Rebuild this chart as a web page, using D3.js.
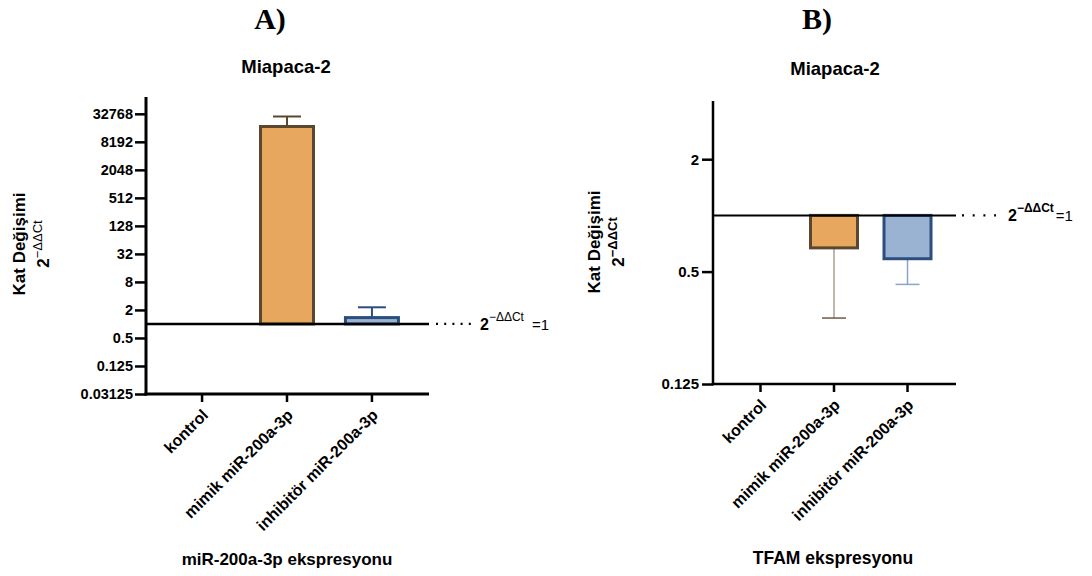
<!DOCTYPE html>
<html>
<head>
<meta charset="utf-8">
<script src="https://cdn.jsdelivr.net/npm/d3@7"></script>
<style>
body { margin: 0; background: #fff; }
svg { display: block; }
text { font-family: "Liberation Sans", Arial, sans-serif; }
</style>
</head>
<body>
<svg id="chart" width="1092" height="576"></svg>
<script>
// ---- data ----
const categories = ["kontrol", "mimik miR-200a-3p", "inhibitör miR-200a-3p"];
const meansA = [1, 17500, 1.37];
const errTopA = [1, 28700, 2.28];
const ticksA = [0.03125, 0.125, 0.5, 2, 8, 32, 128, 512, 2048, 8192, 32768];
const tickLabelsA = ["0.03125", "0.125", "0.5", "2", "8", "32", "128", "512", "2048", "8192", "32768"];
const meansB = [1, 0.67, 0.586];
const errBottomB = [1, 0.282, 0.427];
const ticksB = [0.125, 0.5, 2];
const tickLabelsB = ["0.125", "0.5", "2"];

const fills = [null, "#e8a75e", "#9bb3d3"];
const strokes = [null, "#5b4630", "#2c4e7d"];
const errStrokesB = [null, "#a89e95", "#8aa5c8"];
const capStrokesB = [null, "#6e5a48", "#8aa5c8"];

const svg = d3.select("#chart");
const FONT = "'Liberation Sans', Arial, sans-serif";

function panelTitles(letterX, titleX, titleY, letter) {
  svg.append("text").attr("x", letterX).attr("y", 29).attr("text-anchor", "middle")
    .style("font-family", "'Liberation Serif', 'Times New Roman', serif")
    .style("font-weight", "bold").style("font-size", "30px").text(letter);
  svg.append("text").attr("x", titleX).attr("y", titleY).attr("text-anchor", "middle")
    .style("font-weight", "bold").style("font-size", "18.5px").text("Miapaca-2");
}

function yLabel(x1, x2, cy, supBold) {
  svg.append("text").attr("transform", `translate(${x1},${cy}) rotate(-90)`)
    .attr("text-anchor", "middle").style("font-weight", "bold").style("font-size", "17px")
    .text("Kat Değişimi");
  const t = svg.append("text").attr("transform", `translate(${x2},${cy}) rotate(-90)`)
    .attr("text-anchor", "middle").style("font-weight", "bold").style("font-size", "17px");
  t.append("tspan").text("2");
  t.append("tspan").attr("dy", -7).style("font-size", "13px")
    .style("font-weight", supBold ? "bold" : "normal").text("−ΔΔCt");
}

function annot(x0, x1, y, tx, supBold, spacing) {
  svg.append("line").attr("x1", x0).attr("x2", x1).attr("y1", y).attr("y2", y)
    .attr("stroke", "#000").attr("stroke-width", 2.2)
    .attr("stroke-dasharray", `2,${spacing}`);
  const t = svg.append("text").attr("x", tx).attr("y", y + 6).style("font-size", "16px");
  t.append("tspan").style("font-weight", "bold").text("2");
  t.append("tspan").attr("dy", -9).style("font-size", "12px")
    .style("font-weight", supBold ? "bold" : "normal").text("−ΔΔCt");
  t.append("tspan").attr("dy", 9).attr("dx", supBold ? 2 : 8).style("font-size", "15px").text("=1");
}

function xLabels(g, x, y0, len) {
  categories.forEach((c, i) => {
    g.append("line").attr("x1", x(c)).attr("x2", x(c)).attr("y1", y0).attr("y2", y0 + len)
      .attr("stroke", "#000").attr("stroke-width", 2.5);
    g.append("text").attr("transform", `translate(${x(c) + 7},${y0 + 22}) rotate(-45)`)
      .attr("text-anchor", "end").style("font-weight", "bold").style("font-size", "16px")
      .text(c);
  });
}

// ================= Panel A =================
panelTitles(270, 286, 73, "A)");
const yA = d3.scaleLog().base(2).domain([0.03125, Math.pow(2, 16.2)]).range([394, 97]);
const xA = d3.scalePoint().domain(categories).range([146, 428]).padding(0.66);
const gA = svg.append("g");

categories.forEach((c, i) => {
  if (!fills[i]) return;
  const w = 53;
  const top = Math.min(yA(meansA[i]), yA(1)), bot = Math.max(yA(meansA[i]), yA(1));
  gA.append("line").attr("x1", xA(c)).attr("x2", xA(c)).attr("y1", yA(meansA[i])).attr("y2", yA(errTopA[i]))
    .attr("stroke", strokes[i]).attr("stroke-width", 2);
  gA.append("line").attr("x1", xA(c) - 14).attr("x2", xA(c) + 14).attr("y1", yA(errTopA[i])).attr("y2", yA(errTopA[i]))
    .attr("stroke", strokes[i]).attr("stroke-width", 2);
  gA.append("rect").attr("x", xA(c) - w / 2).attr("y", top).attr("width", w).attr("height", bot - top)
    .attr("fill", fills[i]).attr("stroke", strokes[i]).attr("stroke-width", 3);
});

gA.append("line").attr("x1", 146).attr("x2", 429).attr("y1", yA(1)).attr("y2", yA(1))
  .attr("stroke", "#000").attr("stroke-width", 2.5);
annot(436, 476, yA(1), 480, false, 6.2);

const axA = gA.append("g").attr("transform", "translate(146,0)")
  .call(d3.axisLeft(yA).tickValues(ticksA).tickFormat((d, i) => tickLabelsA[i]).tickSize(11).tickPadding(2));
axA.select(".domain").remove();
axA.selectAll(".tick line").attr("stroke", "#000").attr("stroke-width", 2.5);
axA.selectAll(".tick text").style("font-family", FONT).style("font-weight", "bold").style("font-size", "14.5px").attr("fill", "#000");
gA.append("line").attr("x1", 146).attr("x2", 146).attr("y1", yA.range()[1]).attr("y2", 395.5)
  .attr("stroke", "#000").attr("stroke-width", 3);
gA.append("line").attr("x1", 144.5).attr("x2", 429).attr("y1", 394).attr("y2", 394)
  .attr("stroke", "#000").attr("stroke-width", 3);
xLabels(gA, xA, 394, 8);

yLabel(25, 49, 244, false);
svg.append("text").attr("x", 287).attr("y", 565).attr("text-anchor", "middle")
  .style("font-weight", "bold").style("font-size", "17px").text("miR-200a-3p ekspresyonu");

// ================= Panel B =================
panelTitles(817, 835, 75, "B)");
const yB = d3.scaleLog().base(2).domain([0.125, 4.1]).range([384, 101]);
const xB = d3.scalePoint().domain(categories).range([713, 955]).padding(0.646);
const gB = svg.append("g");

categories.forEach((c, i) => {
  if (!fills[i]) return;
  const w = 47;
  const top = Math.min(yB(meansB[i]), yB(1)), bot = Math.max(yB(meansB[i]), yB(1));
  gB.append("line").attr("x1", xB(c)).attr("x2", xB(c)).attr("y1", yB(meansB[i])).attr("y2", yB(errBottomB[i]))
    .attr("stroke", errStrokesB[i]).attr("stroke-width", 1.5);
  gB.append("line").attr("x1", xB(c) - 12).attr("x2", xB(c) + 12).attr("y1", yB(errBottomB[i])).attr("y2", yB(errBottomB[i]))
    .attr("stroke", capStrokesB[i]).attr("stroke-width", 1.5);
  gB.append("rect").attr("x", xB(c) - w / 2).attr("y", top).attr("width", w).attr("height", bot - top)
    .attr("fill", fills[i]).attr("stroke", strokes[i]).attr("stroke-width", 3);
});

gB.append("line").attr("x1", 713).attr("x2", 956).attr("y1", yB(1)).attr("y2", yB(1))
  .attr("stroke", "#000").attr("stroke-width", 2);
annot(962, 996, yB(1), 1008, true, 8.7);

const axB = gB.append("g").attr("transform", "translate(713,0)")
  .call(d3.axisLeft(yB).tickValues(ticksB).tickFormat((d, i) => tickLabelsB[i]).tickSize(11).tickPadding(3));
axB.select(".domain").remove();
axB.selectAll(".tick line").attr("stroke", "#000").attr("stroke-width", 2.5);
axB.selectAll(".tick text").style("font-family", FONT).style("font-weight", "bold").style("font-size", "15px").attr("fill", "#000");
gB.append("line").attr("x1", 713).attr("x2", 713).attr("y1", yB.range()[1]).attr("y2", 385.2)
  .attr("stroke", "#000").attr("stroke-width", 2.5);
gB.append("line").attr("x1", 711.8).attr("x2", 956).attr("y1", 384).attr("y2", 384)
  .attr("stroke", "#000").attr("stroke-width", 2.5);
xLabels(gB, xB, 384, 8);

yLabel(600, 624, 242, true);
svg.append("text").attr("x", 833).attr("y", 564).attr("text-anchor", "middle")
  .style("font-weight", "bold").style("font-size", "17.5px").text("TFAM ekspresyonu");
</script>
</body>
</html>
